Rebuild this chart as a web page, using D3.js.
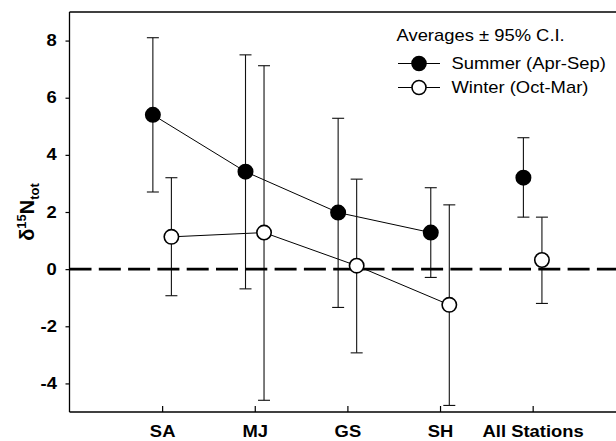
<!DOCTYPE html>
<html>
<head>
<meta charset="utf-8">
<script src="https://cdn.jsdelivr.net/npm/d3@7"></script>
<style>
  body { margin: 0; background: #fff; }
  svg { font-family: Arial, "Liberation Sans", sans-serif; }
</style>
</head>
<body>
<svg></svg>
<script>
var width = 616;
var height = 441;
var stretch = 1.15;   // text in the original is a bit wide

var categories = ["SA", "MJ", "GS", "SH", "All Stations"];
var summerMean = [5.4, 3.41, 1.98, 1.28, 3.2];
var summerLow  = [2.7, -0.69, -1.34, -0.29, 1.82];
var summerHigh = [8.1, 7.5, 5.28, 2.85, 4.6];
var winterMean = [1.13, 1.28, 0.12, -1.25, 0.32];
var winterLow  = [-0.93, -4.59, -2.93, -4.77, -1.2];
var winterHigh = [3.2, 7.12, 3.15, 2.25, 1.82];
var yTicks = [-4, -2, 0, 2, 4, 6, 8];
var connected = 4;   // stations joined by lines (not "All Stations")

var svg = d3.select("svg")
    .attr("width", width)
    .attr("height", height);

var plotLeft = 69.5, plotTop = 12, plotBottom = 412;
//x positions: category i sits at i+1
var xScale = d3.scaleLinear().domain([0, 6]).range([plotLeft, 625.3]);
var yScale = d3.scaleLinear().domain([-5, 9]).range([plotBottom, plotTop]);

function buildSeries(mean, low, high, offset) {
    return mean.map((m, i) => ({x: i + 1 + offset, mean: m, low: low[i], high: high[i]}));
}
var series = [
    {name: "Summer (Apr-Sep)", fill: "#000", data: buildSeries(summerMean, summerLow, summerHigh, -0.1)},
    {name: "Winter (Oct-Mar)", fill: "#fff", data: buildSeries(winterMean, winterLow, winterHigh, 0.1)}
];

//y axis (plain hyphen for negatives, like the original)
var yAxis = svg.append("g")
    .attr("transform", "translate(" + plotLeft + ",0)")
    .call(d3.axisLeft(yScale).tickValues(yTicks).tickSize(4).tickPadding(7).tickFormat(d => String(d)));
yAxis.select(".domain").remove();
yAxis.selectAll("line").attr("stroke-width", 1.2);
yAxis.selectAll("text")
    .attr("font-size", 16).attr("font-weight", "bold").attr("font-family", "Arial, 'Liberation Sans', sans-serif")
    .attr("transform", "scale(" + stretch + ",1)");

//x axis, ticks point inward
var xAxis = svg.append("g")
    .attr("transform", "translate(0," + plotBottom + ")")
    .call(d3.axisBottom(xScale).tickValues([1, 2, 3, 4, 5]).tickSizeInner(-6).tickSizeOuter(0).tickPadding(14)
        .tickFormat(d => categories[d - 1]));
xAxis.select(".domain").remove();
xAxis.selectAll("line").attr("stroke-width", 1.2);
xAxis.selectAll("text")
    .attr("font-size", 16).attr("font-weight", "bold").attr("font-family", "Arial, 'Liberation Sans', sans-serif")
    .attr("transform", "scale(" + stretch + ",1)");

//frame: left, top, bottom (right edge runs off the picture)
var frame = svg.append("g").attr("stroke", "#000").attr("stroke-width", 1.3);
frame.append("line").attr("x1", plotLeft).attr("x2", plotLeft).attr("y1", plotTop).attr("y2", plotBottom);
frame.append("line").attr("x1", plotLeft).attr("x2", width).attr("y1", plotTop).attr("y2", plotTop);
frame.append("line").attr("x1", plotLeft).attr("x2", width).attr("y1", plotBottom).attr("y2", plotBottom);

//y label
var yLabel = svg.append("text")
    .attr("transform", "translate(33.5," + ((plotTop + plotBottom) / 2) + ") rotate(-90)")
    .attr("text-anchor", "middle")
    .attr("font-weight", "bold")
    .attr("font-size", 20);
yLabel.append("tspan").text("δ");
yLabel.append("tspan").attr("font-size", 13).attr("dy", -8).text("15");
yLabel.append("tspan").attr("dy", 8).text("N");
yLabel.append("tspan").attr("font-size", 13).attr("dy", 5).text("tot");

//connecting lines
var line = d3.line().x(d => xScale(d.x)).y(d => yScale(d.mean));
svg.selectAll(".link")
    .data(series)
    .enter()
    .append("path")
        .attr("d", s => line(s.data.slice(0, connected)))
        .attr("fill", "none")
        .attr("stroke", "#000")
        .attr("stroke-width", 1);

//error bars
var bars = svg.selectAll(".err")
    .data(series.flatMap(s => s.data))
    .enter()
    .append("g")
        .attr("stroke", "#111")
        .attr("stroke-width", 1.1);
bars.append("line")
    .attr("x1", d => xScale(d.x)).attr("x2", d => xScale(d.x))
    .attr("y1", d => yScale(d.low)).attr("y2", d => yScale(d.high));
bars.append("line")
    .attr("x1", d => xScale(d.x) - 6).attr("x2", d => xScale(d.x) + 6)
    .attr("y1", d => yScale(d.high)).attr("y2", d => yScale(d.high));
bars.append("line")
    .attr("x1", d => xScale(d.x) - 6).attr("x2", d => xScale(d.x) + 6)
    .attr("y1", d => yScale(d.low)).attr("y2", d => yScale(d.low));

//zero reference line
svg.append("line")
    .attr("x1", plotLeft).attr("x2", width)
    .attr("y1", yScale(0)).attr("y2", yScale(0))
    .attr("stroke", "#000")
    .attr("stroke-width", 2.6)
    .attr("stroke-dasharray", "22,7.3");

//markers
series.forEach(s => {
    svg.selectAll(null)
        .data(s.data)
        .enter()
        .append("circle")
            .attr("cx", d => xScale(d.x))
            .attr("cy", d => yScale(d.mean))
            .attr("r", 7.2)
            .attr("fill", s.fill)
            .attr("stroke", "#000")
            .attr("stroke-width", 1.6);
});

//legend
var legend = svg.append("g");
legend.append("text")
    .attr("transform", "translate(396.5,40.5) scale(" + stretch + ",1)")
    .attr("font-size", 16)
    .text("Averages ± 95% C.I.");
var items = legend.selectAll(".item")
    .data(series)
    .enter()
    .append("g")
        .attr("transform", (d, i) => "translate(0," + (63.5 + i * 24) + ")");
items.append("line")
    .attr("x1", 398).attr("x2", 440)
    .attr("stroke", "#000").attr("stroke-width", 1);
items.append("circle")
    .attr("cx", 419).attr("r", 7)
    .attr("fill", d => d.fill)
    .attr("stroke", "#000").attr("stroke-width", 1.6);
items.append("text")
    .attr("transform", "translate(451.5,5.5) scale(" + stretch + ",1)")
    .attr("font-size", 16)
    .text(d => d.name);
</script>
</body>
</html>
